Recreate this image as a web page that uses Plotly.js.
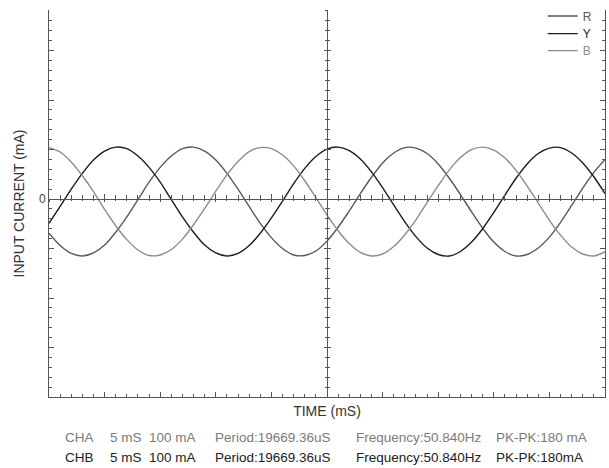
<!DOCTYPE html>
<html>
<head>
<meta charset="utf-8">
<script src="https://cdn.plot.ly/plotly-3.0.1.min.js"></script>
<style>
  html, body { margin: 0; padding: 0; background: #fff; }
  #chart { width: 609px; height: 468px; }
</style>
</head>
<body>
<div id="chart"></div>
<script>
// Sample times (ms), one reading per millisecond across 10 divisions of 5 ms
const timeMs = [0,1,2,3,4,5,6,7,8,9,10,11,12,13,14,15,16,17,18,19,20,21,22,23,24,25,26,27,28,29,30,31,32,33,34,35,36,37,38,39,40,41,42,43,44,45,46,47,48,49,50];

// Phase currents (mA)
const phaseR = [-69,-94,-110,-115,-109,-93,-67,-36,-1,34,64,87,102,105,97,79,52,20,-15,-49,-78,-100,-113,-114,-105,-85,-57,-24,11,44,73,93,104,103,92,71,42,9,-26,-59,-87,-106,-115,-112,-99,-77,-47,-13,22,54,80];
const phaseY = [-49,-15,20,52,79,97,105,102,87,64,34,-1,-36,-67,-93,-109,-115,-110,-94,-69,-38,-4,31,62,86,101,105,98,81,55,23,-12,-46,-76,-99,-112,-115,-106,-87,-60,-27,8,42,71,92,103,104,93,73,45,11];
const phaseB = [104,95,75,47,15,-21,-54,-82,-103,-114,-113,-102,-81,-52,-19,16,49,76,96,104,102,89,67,37,3,-32,-64,-90,-108,-115,-111,-96,-72,-42,-7,27,59,84,100,105,99,83,58,26,-8,-43,-73,-97,-111,-115,-107];

const phaseNames = ['R', 'Y', 'B'];
const phaseColors = ['#585858', '#1c1c1c', '#8c8c8c'];

// y tick values (mA); only the zero division is labelled
const yTickVals = [-400, -300, -200, -100, 0, 100, 200, 300];
const yTickText = ['', '', '', '', '0', '', '', ''];

// Channel readout lines under the plot
const chaInfo = ['CHA', '5 mS', '100 mA', 'Period:19669.36uS', 'Frequency:50.840Hz', 'PK-PK:180 mA'];
const chbInfo = ['CHB', '5 mS', '100 mA', 'Period:19669.36uS', 'Frequency:50.840Hz', 'PK-PK:180mA'];

const X_RANGE = [0, 50];
const Y_RANGE = [-400, 382];
const AX = '#555555';
const FONT = 'Liberation Sans, Arial, sans-serif';

// one compact legend per phase, stacked in the top-right corner
const legendIds = ['legend', 'legend2', 'legend3'];
const legendY = [0.9845, 0.939, 0.895];

const series = [phaseR, phaseY, phaseB];
const traces = series.map((vals, i) => ({
  type: 'scatter',
  mode: 'lines',
  x: timeMs,
  y: vals,
  name: '<span style="color:' + phaseColors[i] + '">' + phaseNames[i] + '</span>',
  legend: legendIds[i],
  line: { color: phaseColors[i], width: 1.4, shape: 'spline', smoothing: 0.8 },
  xaxis: 'x', yaxis: 'y'
}));

// Empty traces so the centre graticule axes get drawn
['x2', 'x3'].forEach(a => traces.push({ type: 'scatter', x: [], y: [], xaxis: a, yaxis: 'y', showlegend: false, hoverinfo: 'skip' }));
['y2', 'y3'].forEach(a => traces.push({ type: 'scatter', x: [], y: [], xaxis: 'x', yaxis: a, showlegend: false, hoverinfo: 'skip' }));

const zeroFrac = (0 - Y_RANGE[0]) / (Y_RANGE[1] - Y_RANGE[0]);

function centreX(ticks, len, mlen) {
  return {
    overlaying: 'x', anchor: 'free', position: zeroFrac, range: X_RANGE,
    showline: true, linecolor: AX, linewidth: 1,
    ticks: ticks, dtick: 5, tick0: 0, ticklen: len, tickcolor: AX, tickwidth: 1,
    minor: { dtick: 1, tick0: 0, ticks: ticks, ticklen: mlen, tickcolor: AX, tickwidth: 1 },
    showticklabels: false, showgrid: false, zeroline: false, fixedrange: true
  };
}
function centreY(ticks, len, mlen) {
  return {
    overlaying: 'y', anchor: 'free', position: 0.5, range: Y_RANGE,
    showline: true, linecolor: AX, linewidth: 1,
    ticks: ticks, dtick: 100, tick0: 0, ticklen: len, tickcolor: AX, tickwidth: 1,
    minor: { dtick: 20, tick0: 0, ticks: ticks, ticklen: mlen, tickcolor: AX, tickwidth: 1 },
    showticklabels: false, showgrid: false, zeroline: false, fixedrange: true
  };
}
function legendBox(yFrac) {
  return {
    x: 0.888, y: yFrac, xanchor: 'left', yanchor: 'middle',
    bgcolor: 'rgba(0,0,0,0)', borderwidth: 0,
    font: { family: FONT, size: 12, color: '#555' }
  };
}

function readout(items, yFrac, color) {
  const cols = [0.025, 0.106, 0.176, 0.295, 0.549, 0.800];
  return items.map((t, i) => ({
    text: t, xref: 'paper', yref: 'paper', x: cols[i], y: yFrac,
    xanchor: 'left', yanchor: 'middle', showarrow: false,
    font: { family: FONT, size: 13.5, color: color }
  }));
}

const layout = {
  width: 609, height: 468,
  margin: { l: 49, r: 4, t: 10, b: 71, autoexpand: false },
  paper_bgcolor: '#ffffff', plot_bgcolor: '#ffffff',
  font: { family: FONT, size: 13, color: '#333' },
  showlegend: true,
  legend: legendBox(legendY[0]),
  legend2: legendBox(legendY[1]),
  legend3: legendBox(legendY[2]),
  xaxis: {
    range: X_RANGE, showline: true, linecolor: AX, linewidth: 1,
    ticks: 'inside', dtick: 5, tick0: 0, ticklen: 5, tickcolor: AX, tickwidth: 1,
    minor: { dtick: 1, tick0: 0, ticks: 'inside', ticklen: 3, tickcolor: AX, tickwidth: 1 },
    showticklabels: false, showgrid: false, zeroline: false, fixedrange: true,
    title: { text: 'TIME (mS)', standoff: 9, font: { family: FONT, size: 14, color: '#333' } }
  },
  yaxis: {
    range: Y_RANGE, showline: true, linecolor: AX, linewidth: 1, mirror: 'ticks',
    ticks: 'inside', tickmode: 'array', tickvals: yTickVals, ticktext: yTickText,
    ticklen: 5, tickcolor: AX, tickwidth: 1,
    minor: { tickmode: 'linear', dtick: 20, tick0: 0, ticks: 'inside', ticklen: 3, tickcolor: AX, tickwidth: 1 },
    tickfont: { family: FONT, size: 12, color: '#444' },
    showgrid: false, zeroline: false, fixedrange: true,
    title: { text: 'INPUT CURRENT (mA)', standoff: 11, font: { family: FONT, size: 14, color: '#333' } }
  },
  xaxis2: centreX('inside', 5, 4),
  xaxis3: centreX('outside', 2, 1),
  yaxis2: centreY('outside', 3, 2),
  yaxis3: centreY('inside', 3, 2),
  annotations: readout(chaInfo, -0.1034, '#7a7a7a').concat(readout(chbInfo, -0.1576, '#222222'))
};

Plotly.newPlot('chart', traces, layout, { displayModeBar: false, staticPlot: true });
</script>
</body>
</html>
